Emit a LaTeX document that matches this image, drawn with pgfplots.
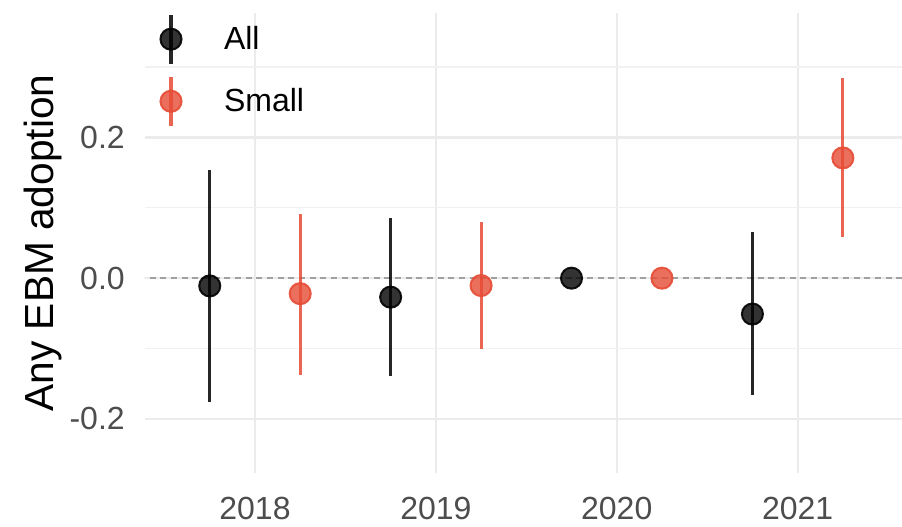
\documentclass[border=0pt]{standalone}
\usepackage{fontspec}
\setmainfont{Liberation Sans}
\usepackage{pgfplots}
\usepackage{pgfplotstable}
\pgfplotsset{compat=1.18}

\definecolor{allcol}{HTML}{000000}
\definecolor{smallcol}{HTML}{E64B35}
\definecolor{gridmaj}{HTML}{EBEBEB}
\definecolor{gridmin}{HTML}{F1F1F1}
\definecolor{tickcol}{HTML}{4D4D4D}
\definecolor{zerocol}{HTML}{A0A0A0}

% point estimates with lower / upper bounds of the interval
\pgfplotstableread{
x       y       lo      hi
2017.75 -0.011  -0.176  0.154
2018.75 -0.027  -0.139  0.085
2019.75  0.000   0.000  0.000
2020.75 -0.051  -0.166  0.065
}\alltab

\pgfplotstableread{
x       y       lo      hi
2018.25 -0.022  -0.137  0.091
2019.25 -0.0105 -0.101  0.080
2020.25  0.000   0.000  0.000
2021.25  0.171   0.058  0.284
}\smalltab

\pgfplotsset{
  intervals/.style={
    forget plot, draw=none, mark=none,
    error bars/.cd, y dir=both, y explicit, error mark=none,
    error bar style={line width=2.3pt, draw=#1, draw opacity=0.85, solid}
  },
  points/.style={
    only marks, mark=*, mark size=7.9pt,
    mark options={draw=#1, fill=#1, line width=1.5pt, fill opacity=0.8, draw opacity=0.9},
    legend image code/.code={
      \path[draw=none, fill=none] (-19.5pt,-18.5pt) rectangle (39.75pt,18.5pt);
      \draw[line width=2.3pt, draw=#1, draw opacity=0.85] (0pt,-18.5pt) -- (0pt,18.5pt);
      \draw plot coordinates {(0pt,0pt)};
    }
  }
}

\begin{document}
\begin{tikzpicture}
\begin{axis}[
  name=ax,
  scale only axis,
  width=567.75pt, height=345pt,
  xmin=2017.392, xmax=2021.577,
  ymin=-0.277, ymax=0.377,
  axis line style={draw=none},
  tick style={draw=none},
  major tick length=0pt,
  xtick={2018,2019,2020,2021},
  xticklabels={2018,2019,2020,2021},
  ytick={-0.2,0,0.2},
  yticklabels={-0.2,0.0,0.2},
  minor ytick={-0.1,0.1,0.3},
  grid=both,
  major grid style={draw=gridmaj, line width=1.6pt},
  minor grid style={draw=gridmin, line width=1.0pt},
  xticklabel style={font=\fontsize{24}{28}\selectfont, text=tickcol, anchor=north, inner sep=0pt, yshift=-18pt},
  yticklabel style={font=\fontsize{24}{28}\selectfont, text=tickcol, anchor=east, inner sep=0pt, xshift=-15pt},
  ylabel={Any EBM adoption},
  ylabel style={at={(rel axis cs:0,0.5)}, anchor=center, inner sep=0pt, yshift=76.5pt,
    font=\fontsize{30.5}{35}\selectfont},
  legend style={at={(rel axis cs:0,1)}, anchor=north west, draw=none, fill=none,
    inner sep=0pt, outer sep=0pt, row sep=7.25pt,
    nodes={inner sep=0pt}, font=\fontsize{24}{28}\selectfont},
  legend cell align=left,
]
% zero reference line
\addplot[forget plot, draw=zerocol, line width=1.3pt, dash pattern=on 4.5pt off 3.5pt]
  coordinates {(2017.3,0) (2021.7,0)};

\addplot[intervals=allcol] table[x=x, y=y,
  y error plus expr=\thisrow{hi}-\thisrow{y},
  y error minus expr=\thisrow{y}-\thisrow{lo}] {\alltab};
\addplot[points=allcol] table[x=x, y=y] {\alltab};
\addlegendentry{All}

\addplot[intervals=smallcol] table[x=x, y=y,
  y error plus expr=\thisrow{hi}-\thisrow{y},
  y error minus expr=\thisrow{y}-\thisrow{lo}] {\smalltab};
\addplot[points=smallcol] table[x=x, y=y] {\smalltab};
\addlegendentry{Small}
\end{axis}
\pgfresetboundingbox
\path ([shift={(-108.75pt,-39.75pt)}]ax.south west) rectangle ([shift={(0pt,9.75pt)}]ax.north east);
\end{tikzpicture}
\end{document}
